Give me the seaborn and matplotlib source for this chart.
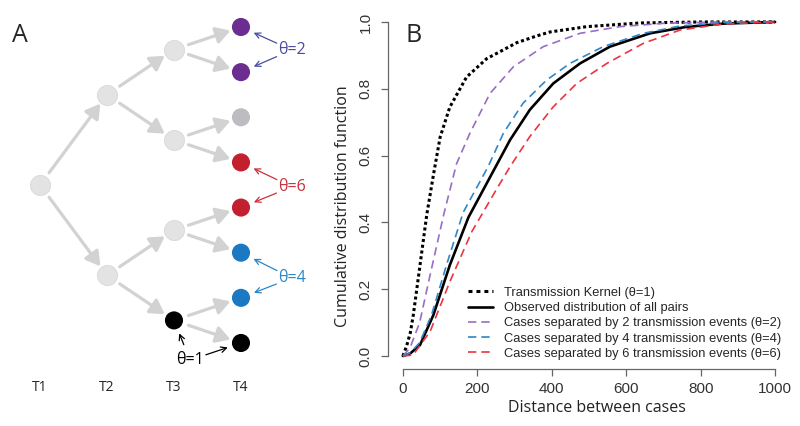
import matplotlib
matplotlib.use('Agg')
import matplotlib.pyplot as plt
import seaborn as sns

# ---- panel B data ----
kernel_d = [0, 10, 20, 28, 46, 64, 82, 100, 126, 171, 225, 269, 306, 359, 395, 494, 637, 800, 1000]
kernel_F = [0, 0.03, 0.07, 0.123, 0.272, 0.422, 0.542, 0.655, 0.745, 0.835, 0.89, 0.916, 0.938,
            0.958, 0.970, 0.986, 0.997, 1.0, 1.0]

obs_d = [0, 20, 46, 82, 126, 176, 247, 288, 341, 404, 476, 556, 664, 760, 860, 1000]
obs_F = [0, 0.008, 0.033, 0.123, 0.272, 0.415, 0.562, 0.647, 0.737, 0.816, 0.876, 0.926, 0.966,
         0.985, 0.995, 1.0]

theta2_d = [0, 19, 45, 73, 110, 144, 180, 234, 297, 377, 476, 583, 700, 850, 1000]
theta2_F = [0, 0.024, 0.10, 0.242, 0.425, 0.575, 0.667, 0.786, 0.866, 0.926, 0.966, 0.986, 0.996,
            1.0, 1.0]

theta4_d = [0, 20, 45, 77, 117, 162, 229, 270, 323, 386, 449, 538, 646, 745, 860, 1000]
theta4_F = [0, 0.01, 0.04, 0.123, 0.272, 0.43, 0.567, 0.667, 0.757, 0.826, 0.876, 0.926, 0.966,
            0.988, 0.998, 1.0]

theta6_d = [0, 27, 73, 126, 185, 252, 288, 341, 404, 467, 548, 646, 745, 860, 1000]
theta6_F = [0, 0.003, 0.073, 0.222, 0.372, 0.50, 0.567, 0.657, 0.746, 0.816, 0.876, 0.936, 0.976,
            0.994, 1.0]

legend_labels = ['Transmission Kernel (\u03b8=1)',
                 'Observed distribution of all pairs',
                 'Cases separated by 2 transmission events (\u03b8=2)',
                 'Cases separated by 4 transmission events (\u03b8=4)',
                 'Cases separated by 6 transmission events (\u03b8=6)']

# ---- panel A data: transmission tree ----
gen_labels = ['T1', 'T2', 'T3', 'T4']
node_gen = [1, 2, 2, 3, 3, 3, 3, 4, 4, 4, 4, 4, 4, 4, 4]
node_slot = [3.5, 1.5, 5.5, 0.5, 2.5, 4.5, 6.5, 0, 1, 2, 3, 4, 5, 6, 7]
node_parent = [None, 0, 0, 1, 1, 2, 2, 3, 3, 4, 4, 5, 5, 6, 6]
node_group = ['internal'] * 6 + ['theta1'] + ['theta2', 'theta2', 'other', 'theta6',
                                             'theta6', 'theta4', 'theta4', 'theta1']
theta_labels = ['\u03b8=2', '\u03b8=6', '\u03b8=4', '\u03b8=1']
theta_nodes = [(7, 8), (10, 11), (12, 13), (6, 14)]
theta_text_pos = [(4.76, 0.51), (4.76, 3.54), (4.76, 5.56), (3.24, 7.38)]

node_colors = {'internal': '#e3e3e3', 'other': '#bdbdc1', 'theta1': '#000000',
               'theta2': '#6b2d8f', 'theta4': '#1b78c2', 'theta6': '#c3202f'}
theta_colors = ['#4b4ba0', '#c8323c', '#2a86c8', '#000000']

sns.set_style('white')
plt.rcParams['font.family'] = ['Liberation Sans', 'DejaVu Sans']

fig = plt.figure(figsize=(8, 4.26), dpi=100)

# ================= panel A =================
ax_t = fig.add_axes([0, 0, 380 / 800, 1])
ax_t.set_xlim(0.403, 6.075)
ax_t.set_ylim(8.839, -0.598)
ax_t.axis('off')

for i, p in enumerate(node_parent):
    if p is None:
        continue
    ax_t.annotate('', xy=(node_gen[i], node_slot[i]), xytext=(node_gen[p], node_slot[p]),
                  arrowprops=dict(arrowstyle='-|>,head_length=0.85,head_width=0.5',
                                  color='#d2d2d2', lw=2.3, shrinkA=11, shrinkB=8,
                                  mutation_scale=10))

inner = [i for i, g in enumerate(node_group) if g == 'internal']
outer = [i for i, g in enumerate(node_group) if g != 'internal']
sns.scatterplot(x=[node_gen[i] for i in inner], y=[node_slot[i] for i in inner],
                color=node_colors['internal'], s=210, edgecolor='#d8d8d8', linewidth=0.6,
                ax=ax_t, zorder=3, legend=False)
sns.scatterplot(x=[node_gen[i] for i in outer], y=[node_slot[i] for i in outer],
                hue=[node_group[i] for i in outer], palette=node_colors, s=170,
                linewidth=0, ax=ax_t, zorder=3, legend=False)

for k, lab in enumerate(gen_labels):
    ax_t.text(k + 1, 7.99, lab, ha='center', va='center', fontsize=10, family='Open Sans')

for lab, col, pair, pos in zip(theta_labels, theta_colors, theta_nodes, theta_text_pos):
    ax_t.text(pos[0], pos[1], lab, color=col, ha='center', va='center', fontsize=11.5,
              family='Open Sans')
    for n in pair:
        ax_t.annotate('', xy=(node_gen[n], node_slot[n]), xytext=pos,
                      arrowprops=dict(arrowstyle='->', color=col, lw=0.9,
                                      shrinkA=12, shrinkB=10))

fig.text(12 / 800, 1 - 42 / 426, 'A', fontsize=18, family='Open Sans', va='baseline')

# ================= panel B =================
ax = fig.add_axes([388 / 800, 1 - 369.4 / 426, 402 / 800, 360.8 / 426])
sns.lineplot(x=kernel_d, y=kernel_F, color='black', lw=2.2, ax=ax, label=legend_labels[0])
ax.lines[-1].set_dashes((1.0, 0.9))
sns.lineplot(x=obs_d, y=obs_F, color='black', lw=1.9, ax=ax, label=legend_labels[1])
sns.lineplot(x=theta2_d, y=theta2_F, color='#9a6cc4', lw=1.2, ax=ax, label=legend_labels[2])
ax.lines[-1].set_dashes((5, 3))
sns.lineplot(x=theta4_d, y=theta4_F, color='#2f86c8', lw=1.2, ax=ax, label=legend_labels[3])
ax.lines[-1].set_dashes((5, 3))
sns.lineplot(x=theta6_d, y=theta6_F, color='#ea3540', lw=1.2, ax=ax, label=legend_labels[4])
ax.lines[-1].set_dashes((5, 3))

ax.set_xlim(-40, 1040)
ax.set_ylim(-0.04, 1.04)
ax.set_xticks([0, 200, 400, 600, 800, 1000])
ax.set_yticks([0, 0.2, 0.4, 0.6, 0.8, 1.0])
ax.set_yticklabels(['0.0', '0.2', '0.4', '0.6', '0.8', '1.0'])
for s in ['top', 'right']:
    ax.spines[s].set_visible(False)
ax.spines['left'].set_bounds(0, 1)
ax.spines['bottom'].set_bounds(0, 1000)
for s in ['left', 'bottom']:
    ax.spines[s].set_color('#666666')
    ax.spines[s].set_linewidth(0.9)
ax.tick_params(axis='both', direction='out', length=5, width=0.9, color='#666666',
               labelsize=11, labelcolor='#333333', left=True, bottom=True)
ax.tick_params(axis='x', pad=4)
ax.tick_params(axis='y', pad=6)
for t in ax.get_yticklabels():
    t.set_rotation(90)
    t.set_va('center')

ax.set_xlabel('Distance between cases', family='Open Sans', fontsize=11.5, color='#222222')
ax.set_ylabel('Cumulative distribution function', family='Open Sans', fontsize=11.5,
              color='#222222')
ax.xaxis.set_label_coords(0.52, -0.085)
ax.yaxis.set_label_coords(-0.092, 0.453)

leg = ax.legend(loc='lower left', bbox_to_anchor=(468 / 800, 66 / 426),
                bbox_transform=fig.transFigure, frameon=False, fontsize=9.3,
                handlelength=1.95, handletextpad=0.85, labelspacing=0.25, borderpad=0,
                borderaxespad=0)
leg.get_lines()[0].set_dashes((1.3, 1.3))

fig.text(405 / 800, 1 - 42 / 426, 'B', fontsize=18, family='Open Sans', va='baseline')

fig.savefig('out.png', dpi=100)
